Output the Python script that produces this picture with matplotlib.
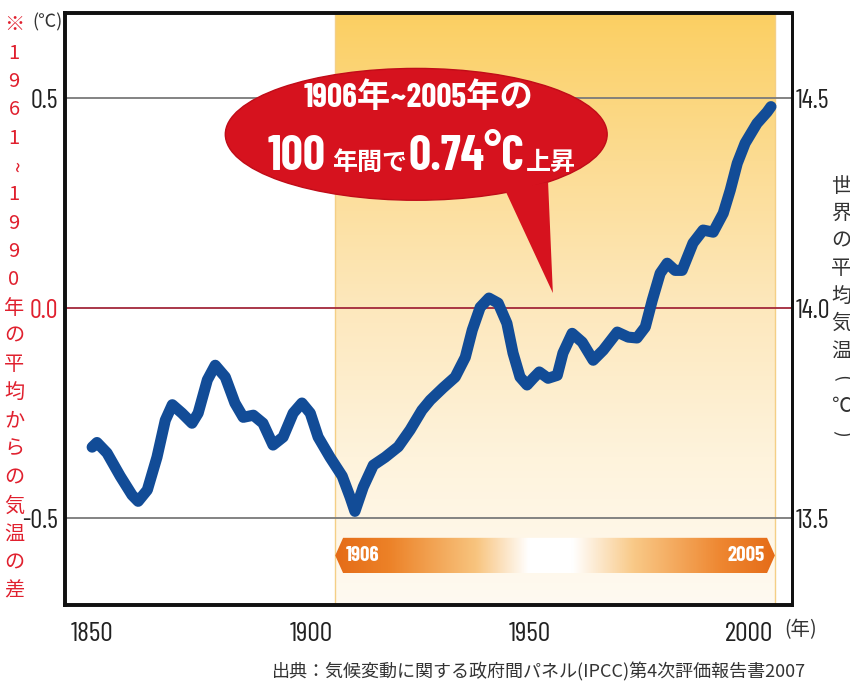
import numpy as np
import matplotlib
matplotlib.use("Agg")
import matplotlib.pyplot as plt
from matplotlib.colors import LinearSegmentedColormap
from matplotlib.patches import Ellipse, Polygon

plt.rcParams['font.family'] = ['Noto Sans CJK JP', 'DejaVu Sans']

# global mean temperature anomaly vs. 1961-1990 average (smoothed curve)
years = [1850.0, 1851.1, 1853.4, 1856.4, 1859.1, 1860.5, 1862.6, 1864.8, 1866.7, 1868.3,
         1870.5, 1872.8, 1874.2, 1876.3, 1878.1, 1880.4, 1882.6, 1884.5, 1886.8, 1889.0,
         1891.3, 1893.6, 1895.9, 1897.9, 1899.8, 1901.6, 1904.3, 1907.1, 1908.9, 1910.0,
         1911.9, 1914.2, 1916.9, 1919.9, 1922.6, 1925.3, 1927.2, 1930.1, 1932.9, 1935.2,
         1936.8, 1938.6, 1940.6, 1942.7, 1944.7, 1946.1, 1947.7, 1949.3, 1950.7, 1952.1,
         1954.1, 1956.2, 1957.5, 1959.6, 1961.9, 1964.4, 1966.7, 1969.9, 1972.4, 1974.4,
         1976.3, 1977.9, 1979.7, 1981.3, 1983.1, 1984.7, 1987.2, 1989.5, 1991.8, 1994.1,
         1995.7, 1997.3, 1999.1, 2001.8, 2004.1, 2005.0]
anomaly = [-0.331, -0.320, -0.345, -0.400, -0.445, -0.460, -0.433, -0.355, -0.267, -0.230,
           -0.250, -0.274, -0.250, -0.171, -0.136, -0.164, -0.226, -0.260, -0.255, -0.274,
           -0.326, -0.307, -0.250, -0.226, -0.250, -0.307, -0.355, -0.400, -0.450, -0.484,
           -0.426, -0.374, -0.355, -0.330, -0.290, -0.243, -0.219, -0.190, -0.164, -0.117,
           -0.052, 0.002, 0.024, 0.012, -0.036, -0.107, -0.164, -0.183, -0.167, -0.152,
           -0.167, -0.160, -0.107, -0.060, -0.081, -0.124, -0.100, -0.057, -0.069, -0.071,
           -0.045, 0.019, 0.083, 0.107, 0.090, 0.090, 0.155, 0.186, 0.181, 0.226,
           0.281, 0.345, 0.393, 0.440, 0.467, 0.480]

BASE_TEMP = 14.0
PERIOD_START, PERIOD_END = 1906, 2005
RISE = 0.74
left_ticks = [-0.5, 0.0, 0.5]
x_ticks = [1850, 1900, 1950, 2000]

NARROW = ['Barlow Condensed', 'Noto Sans CJK JP', 'DejaVu Sans']
CJK = ['Noto Sans CJK JP', 'DejaVu Sans']
RED = '#e0202e'
BLUE = '#124c97'
INK = '#222222'

XMIN, XMAX = 1843.8, 2009.8
YMIN, YMAX = -0.707, 0.703
W, H = 850, 689

fig = plt.figure(figsize=(W / 100, H / 100), dpi=100)
ax = fig.add_axes([65 / W, 84 / H, 727 / W, 592 / H])


def fig_xy(px, py):
    return px / W, 1 - py / H


# period shading, orange at the top fading to cream
shade_cmap = LinearSegmentedColormap.from_list(
    'shade', ['#fffaf1', '#fef3dc', '#fde8bd', '#fcdc93', '#fbcf62'])
sx0, sx1 = PERIOD_START - 0.5, PERIOD_END + 0.9
ax.imshow(np.linspace(0, 1, 256).reshape(-1, 1), cmap=shade_cmap, origin='lower',
          extent=[sx0, sx1, YMIN, YMAX], aspect='auto', zorder=0)
for xe in (sx0, sx1):
    ax.axvline(xe, color='#f4cf86', lw=1.0, zorder=0.5)

# reference lines
for yv in left_ticks:
    ax.axhline(yv, color='#a3283a' if yv == 0 else '#7a7a7a', lw=1.3, zorder=1)

ax.plot(years, anomaly, color=BLUE, lw=8, solid_capstyle='round',
        solid_joinstyle='round', zorder=3)

# period bar at the bottom
yc, bh, tip = -0.589, 0.042, 1.8
bar_shape = Polygon([(sx0, yc), (sx0 + tip, yc + bh), (sx1 - tip, yc + bh), (sx1, yc),
                     (sx1 - tip, yc - bh), (sx0 + tip, yc - bh)], closed=True,
                    fc='none', ec='none', zorder=4)
ax.add_patch(bar_shape)
bar_cmap = LinearSegmentedColormap.from_list(
    'bar', [(0.0, '#e56c18'), (0.12, '#ec8127'), (0.32, '#f8c47e'),
            (0.44, '#ffffff'), (0.54, '#ffffff'), (0.68, '#f9c987'),
            (0.88, '#ee8630'), (1.0, '#e56c18')])
bar_img = ax.imshow(np.linspace(0, 1, 256).reshape(1, -1), cmap=bar_cmap,
                    extent=[sx0, sx1, yc - bh, yc + bh], aspect='auto', zorder=4)
bar_img.set_clip_path(bar_shape)
ax.text(sx0 + 2.3, yc, str(PERIOD_START), ha='left', va='center', color='white',
        fontsize=15, fontweight='bold', family=NARROW, zorder=5)
ax.text(sx1 - 2.3, yc, str(PERIOD_END), ha='right', va='center', color='white',
        fontsize=15, fontweight='bold', family=NARROW, zorder=5)

# speech bubble
ax.add_patch(Ellipse((1924.0, 0.414), 87.2, 0.314, fc='#d6121e', ec='#c00c18',
                     lw=1.0, zorder=5))
ax.add_patch(Polygon([(1944.3, 0.281), (1954.1, 0.300), (1955.2, 0.036)],
                     closed=True, fc='#d6121e', ec='none', zorder=5))
fig.text(*fig_xy(419, 97), f'{PERIOD_START}年~{PERIOD_END}年の', ha='center',
         va='center', color='white', fontsize=24, fontweight='bold',
         family=NARROW, zorder=6)
base_y = 170
for px, s, size, fam in [(268, '100', 35, NARROW), (332, '年間で', 18, CJK),
                         (409, f'{RISE}°C', 35, NARROW), (526, '上昇', 18, CJK)]:
    fig.text(*fig_xy(px, base_y), s, ha='left', va='baseline', color='white',
             fontsize=size, fontweight='bold', family=fam, zorder=6)

ax.set_xlim(XMIN, XMAX)
ax.set_ylim(YMIN, YMAX)
ax.set_xticks(x_ticks)
ax.set_xticklabels([str(v) for v in x_ticks], family=NARROW, fontsize=20, color=INK)
ax.set_yticks(left_ticks)
ax.set_yticklabels([f'{v:.1f}' for v in left_ticks], family=NARROW, fontsize=19)
for lab, v in zip(ax.get_yticklabels(), left_ticks):
    lab.set_color(RED if v == 0 else INK)
ax.tick_params(axis='x', length=0, pad=12)
ax.tick_params(axis='y', length=0, pad=5)

ax2 = ax.twinx()
ax2.set_ylim(YMIN + BASE_TEMP, YMAX + BASE_TEMP)
right_ticks = [BASE_TEMP + v for v in left_ticks]
ax2.set_yticks(right_ticks)
ax2.set_yticklabels([f'{v:.1f}' for v in right_ticks], family=NARROW,
                    fontsize=19, color=INK)
ax2.tick_params(axis='y', length=0, pad=3)

for a in (ax, ax2):
    for side in ('left', 'bottom', 'top'):
        a.spines[side].set_linewidth(2.6)
    a.spines['right'].set_linewidth(2.0)
    for s in a.spines.values():
        s.set_color('#111111')
        s.set_zorder(10)


def vertical_text(x_px, y_top_px, step_px, text, color, size):
    # stack characters top to bottom; waves and brackets turned sideways
    for i, ch in enumerate(text):
        rot = -90 if ch in '~()' else 0
        fig.text(*fig_xy(x_px, y_top_px + i * step_px), ch, ha='center',
                 va='center', rotation=rot, color=color, fontsize=size, family=CJK)


vertical_text(14, 25, 28.3, '※1961~1990年の平均からの気温の差', RED, 14.5)
vertical_text(841, 186, 27.5, '世界の平均気温(℃)', '#333333', 14.5)

fig.text(*fig_xy(47, 22), '(℃)', ha='center', va='center', fontsize=13, color='#333333')
fig.text(*fig_xy(801, 630), '(年)', ha='center', va='center', fontsize=14, color='#333333')
fig.text(*fig_xy(806, 672),
         '出典：気候変動に関する政府間パネル(IPCC)第4次評価報告書2007',
         ha='right', va='center', fontsize=13, color='#333333')

fig.savefig('out.png', dpi=100)
